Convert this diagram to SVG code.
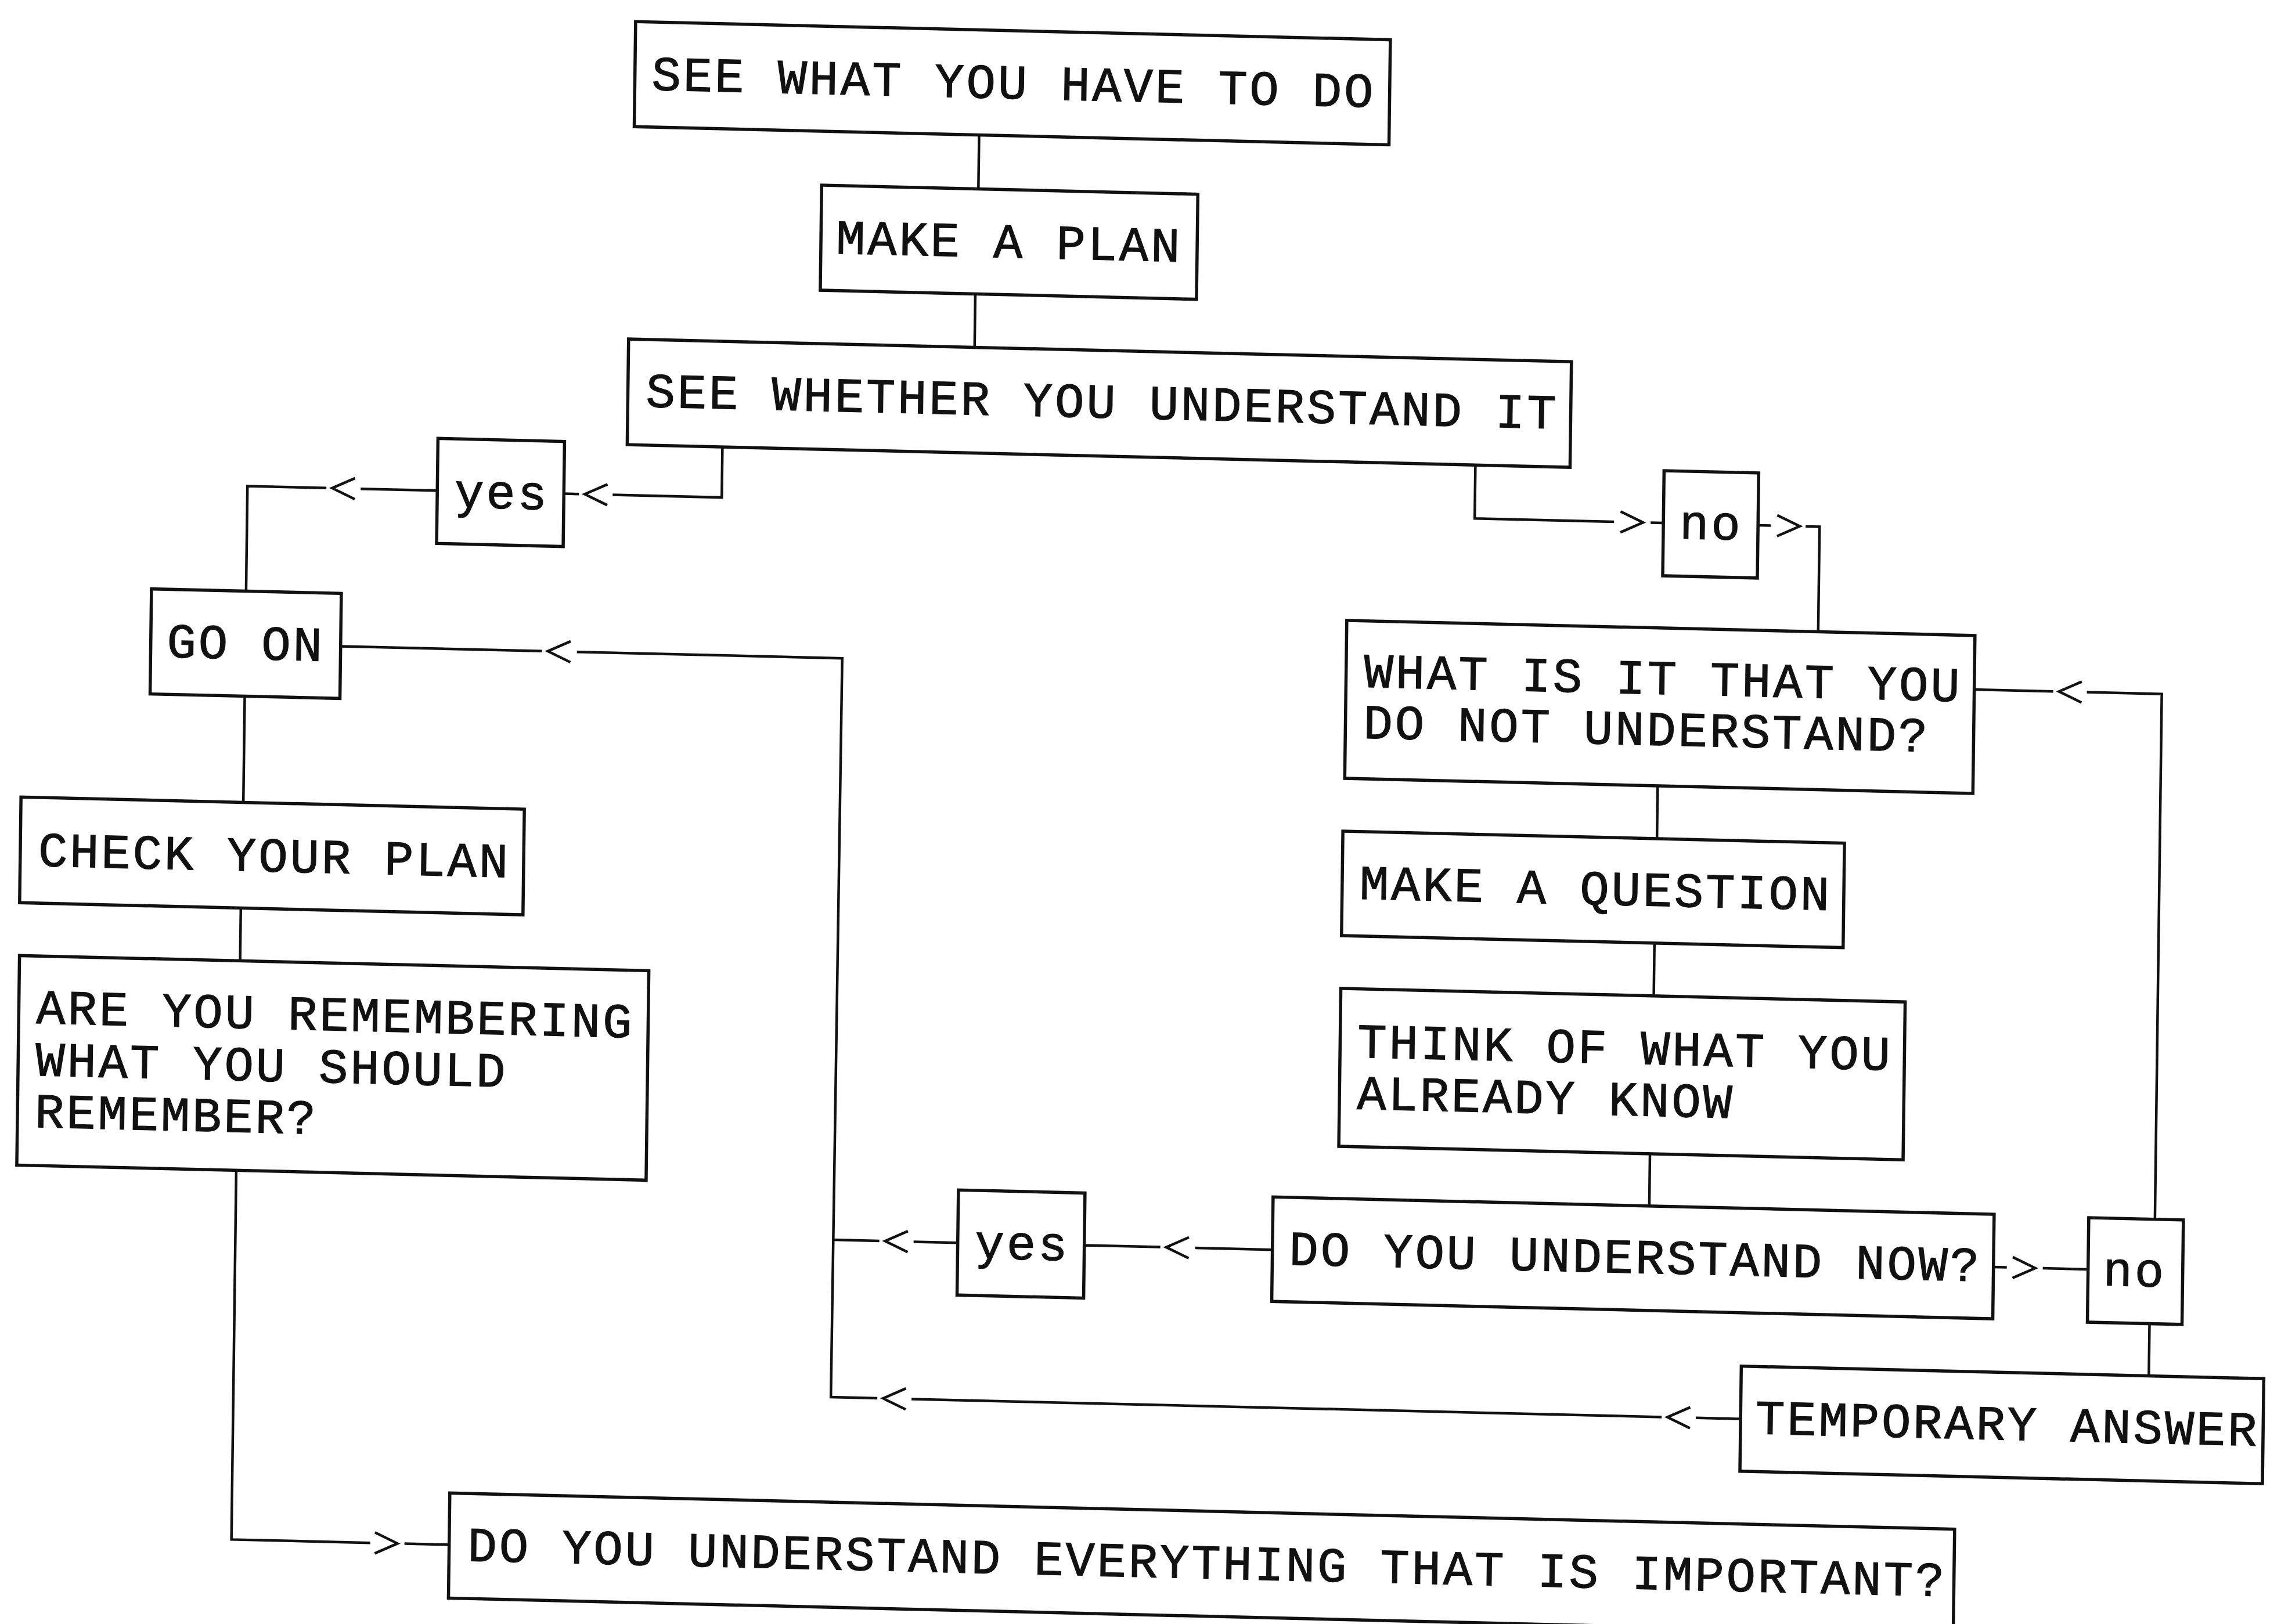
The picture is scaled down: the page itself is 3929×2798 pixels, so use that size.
<svg xmlns="http://www.w3.org/2000/svg" width="3929" height="2798" viewBox="0 0 3929 2798">
<style>
.box{fill:#fff;stroke:#111;stroke-width:5.5}
.t{font-family:"Liberation Mono","DejaVu Sans Mono",monospace;font-size:84px;letter-spacing:3.8px;fill:#111;stroke:#111;stroke-width:1.2}
.c{fill:none;stroke:#111;stroke-width:4.5}
.ch{fill:none;stroke:#111;stroke-width:4.5}
</style>
<defs>
<path id="al" class="ch" d="M39,-18 L0,0 L39,18"/>
<path id="ar" class="ch" d="M-39,-18 L0,0 L-39,18"/>
</defs>
<rect width="3929" height="2798" fill="#fff"/>
<g transform="matrix(1,0.024,-0.013,1,0,0)">
<g id="connectors">
<path class="c" d="M1689,192 V285"/>
<path class="c" d="M1686,466 V558"/>
<path class="c" d="M1254,740 V827 H1066 M1008,827 H982"/>
<use href="#al" x="1018" y="827"/>
<path class="c" d="M764,827 H632 M573,827 H437 V1008"/>
<use href="#al" x="583" y="827"/>
<path class="c" d="M2551,740 V832 H2791 M2854,832 H2876"/>
<use href="#ar" x="2841" y="832"/>
<path class="c" d="M3039,832 H3061 M3121,832 H3145 V1013"/>
<use href="#ar" x="3111" y="832"/>
<path class="c" d="M437,1189 V1372"/>
<path class="c" d="M435,1554 V1645"/>
<path class="c" d="M433,2006 V2642 H672 M731,2642 H808"/>
<use href="#ar" x="719" y="2642"/>
<path class="c" d="M2872,1285 V1376"/>
<path class="c" d="M2870,1556 V1647"/>
<path class="c" d="M2867,1919 V2009"/>
<path class="c" d="M2219,2100 H2086 M2026,2100 H1895"/>
<use href="#al" x="2036" y="2100"/>
<path class="c" d="M1677,2101 H1601 M1542,2101 H1463"/>
<use href="#al" x="1552" y="2101"/>
<path class="c" d="M601,1099 H948 M1008,1099 H1465 L1462,2372 H1542 M1601,2372 H2893 M2952,2372 H3029"/>
<use href="#al" x="958" y="1099"/>
<use href="#al" x="1552" y="2372"/>
<use href="#al" x="2903" y="2372"/>
<path class="c" d="M3461,2100 H3484 M3546,2100 H3624"/>
<use href="#ar" x="3533" y="2100"/>
<path class="c" d="M3738,2011 V1106 H3609 M3551,1106 H3415"/>
<use href="#al" x="3561" y="1106"/>
<path class="c" d="M3731,2191 V2281"/>
</g>
<g id="n1"><rect class="box" x="1095" y="11" width="1300" height="181"/><text class="t" x="1124" y="128">SEE WHAT YOU HAVE TO DO</text></g>
<g id="n2"><rect class="box" x="1419" y="285" width="648" height="181"/><text class="t" x="1445" y="402">MAKE A PLAN</text></g>
<g id="n3"><rect class="box" x="1090" y="558" width="1624" height="182"/><text class="t" x="1121" y="674">SEE WHETHER YOU UNDERSTAND IT</text></g>
<g id="n4"><rect class="box" x="764" y="737" width="218" height="181"/><text class="t" x="794" y="855">yes</text></g>
<g id="n5"><rect class="box" x="2876" y="742" width="163" height="181"/><text class="t" x="2904" y="858">no</text></g>
<g id="n6"><rect class="box" x="274" y="1008" width="327" height="181"/><text class="t" x="302" y="1125">GO ON</text></g>
<g id="n7"><rect class="box" x="2333" y="1013" width="1082" height="272"/><text class="t" x="2364" y="1127">WHAT IS IT THAT YOU</text><text class="t" x="2364" y="1215">DO NOT UNDERSTAND?</text></g>
<g id="n8"><rect class="box" x="54" y="1372" width="867" height="182"/><text class="t" x="85" y="1490">CHECK YOUR PLAN</text></g>
<g id="n9"><rect class="box" x="2331" y="1376" width="864" height="180"/><text class="t" x="2361" y="1492">MAKE A QUESTION</text></g>
<g id="n10"><rect class="box" x="55" y="1645" width="1084" height="361"/><text class="t" x="85" y="1761">ARE YOU REMEMBERING</text><text class="t" x="85" y="1851">WHAT YOU SHOULD</text><text class="t" x="85" y="1940">REMEMBER?</text></g>
<g id="n11"><rect class="box" x="2331" y="1647" width="972" height="272"/><text class="t" x="2361" y="1765">THINK OF WHAT YOU</text><text class="t" x="2361" y="1854">ALREADY KNOW</text></g>
<g id="n12"><rect class="box" x="2219" y="2009" width="1242" height="180"/><text class="t" x="2248" y="2125">DO YOU UNDERSTAND NOW?</text></g>
<g id="n13"><rect class="box" x="1677" y="2010" width="218" height="181"/><text class="t" x="1707" y="2127">yes</text></g>
<g id="n14"><rect class="box" x="3624" y="2011" width="163" height="180"/><text class="t" x="3650" y="2127">no</text></g>
<g id="n15"><rect class="box" x="3029" y="2281" width="900" height="181"/><text class="t" x="3055" y="2397">TEMPORARY ANSWER</text></g>
<g id="n16"><rect class="box" x="808" y="2553" width="2592" height="181"/><text class="t" x="840" y="2669">DO YOU UNDERSTAND EVERYTHING THAT IS IMPORTANT?</text></g>
</g>
</svg>
